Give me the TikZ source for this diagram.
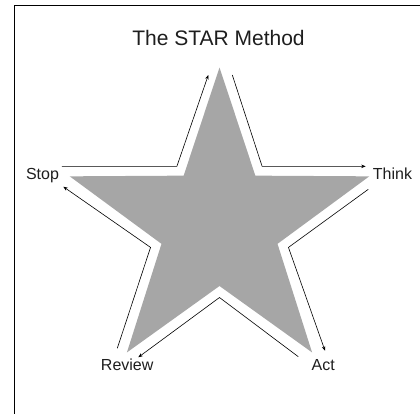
\documentclass[tikz,border=0pt]{standalone}
\usepackage{fontspec}
\setmainfont{Liberation Sans}
\usetikzlibrary{arrows.meta}
\definecolor{stargray}{RGB}{166,166,166}
\definecolor{inkgray}{RGB}{30,30,30}

\begin{document}
\begin{tikzpicture}[x=1pt, y=1pt,
    steplabel/.style={font=\fontsize{16}{18}\selectfont, text=inkgray, inner sep=0pt, anchor=base},
    flow/.style={-{Stealth[length=4.5pt, width=3.5pt]}, line width=0.6pt}]
  \useasboundingbox (-219.5,-188) rectangle (200.5,225);
  \clip (-219.5,-188) rectangle (200.5,225);
  % frame (only top and left edge inside the page)
  \draw[line width=1pt] (-204.5,-200) -- (-204.5,219) -- (210,219);

  % title
  \node[font=\fontsize{21}{24}\selectfont, text=inkgray, inner sep=0pt, anchor=base]
    (title) at (-1,180) {The STAR Method};

  % star
  \fill[stargray] (90:157.5) -- (54:61) -- (18:157.5) -- (-18:61) -- (-54:157.5)
    -- (-90:61) -- (-126:157.5) -- (-162:61) -- (162:157.5) -- (126:61) -- cycle;

  % labels
  \node[steplabel] (stop)   at (-177,46)     {Stop};
  \node[steplabel] (think)  at (173,46)      {Think};
  \node[steplabel] (act)    at (103.8,-145.7) {Act};
  \node[steplabel] (review) at (-92.3,-145.7) {Review};

  % corners of the outline round the star
  \coordinate (c1) at (126:72.5);
  \coordinate (c2) at (54:72.5);
  \coordinate (c3) at (-18:72.5);
  \coordinate (c4) at (-90:72.5);
  \coordinate (c5) at (-162:72.5);
  % ends of the arrows
  \coordinate (s1) at (-157.5,58.65);  \coordinate (t1) at (-11.2,150);
  \coordinate (s2) at (12.8,150);      \coordinate (t2) at (146.2,58.65);
  \coordinate (s3) at (148.8,35.7);    \coordinate (t3) at (105.5,-125.7);
  \coordinate (s4) at (78.8,-131.7);   \coordinate (t4) at (-81.2,-132.3);
  \coordinate (s5) at (-102.2,-123.3); \coordinate (t5) at (-156.2,38.3);

  % arrows
  \draw[flow] (s1) -- (c1) -- (t1);
  \draw[flow] (s2) -- (c2) -- (t2);
  \draw[flow] (s3) -- (c3) -- (t3);
  \draw[flow] (s4) -- (c4) -- (t4);
  \draw[flow] (s5) -- (c5) -- (t5);
\end{tikzpicture}
\end{document}
